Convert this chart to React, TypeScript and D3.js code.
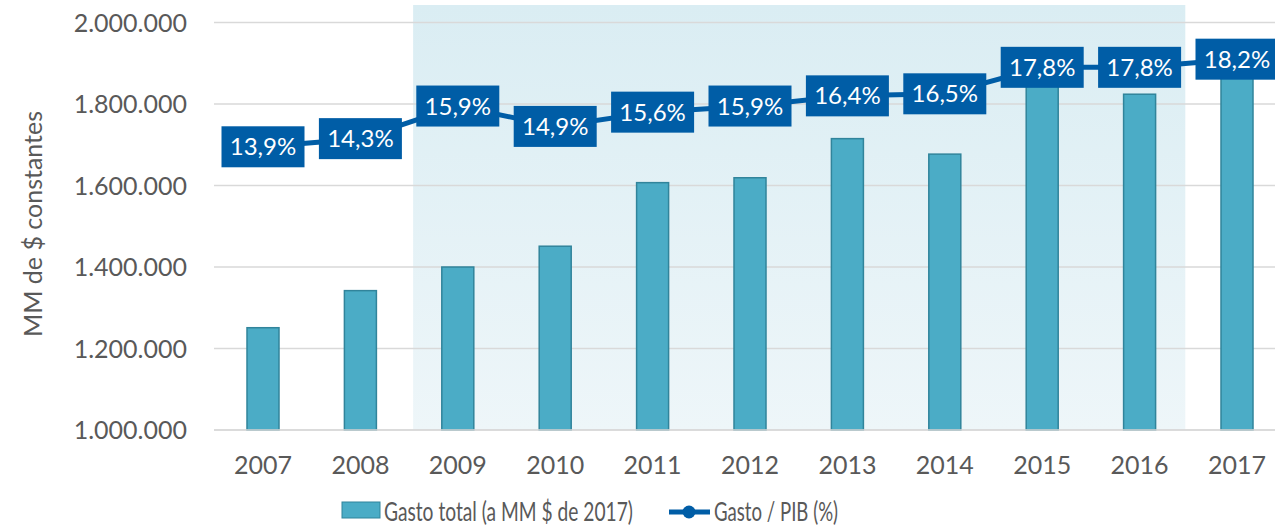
import React, { useLayoutEffect, useRef, useState } from "react";
import * as d3 from "d3";

const years = ["2007", "2008", "2009", "2010", "2011", "2012", "2013", "2014", "2015", "2016", "2017"];
const gastoTotal = [1251000, 1342000, 1400000, 1451000, 1607000, 1619000, 1715000, 1677000, 1858000, 1824000, 1880000];
const gastoPib = [13.9, 14.3, 15.9, 14.9, 15.6, 15.9, 16.4, 16.5, 17.8, 17.8, 18.2];
const yTicks = [1000000, 1200000, 1400000, 1600000, 1800000, 2000000];
const shadedFrom = "2009";
const shadedTo = "2016";
const legendLabels = ["Gasto total (a MM $ de 2017)", "Gasto / PIB (%)"];

const W = 1275;
const H = 528;
const FONT = "Lato, 'Open Sans', sans-serif";
const BAR = "#4BACC6";
const BAR_STROKE = "#31849B";
const LINE = "#005DA6";
const TEXT = "#595959";

const fmt = (v: number) => d3.format(",")(v).replace(/,/g, ".");
const fmtPct = (v: number) => v.toFixed(1).replace(".", ",") + "%";

function FitText({ x, y, width, children }: { x: number; y: number; width: number; children: string }) {
  const ref = useRef<SVGTextElement>(null);
  const [sx, setSx] = useState(0.72);
  useLayoutEffect(() => {
    if (ref.current) {
      const w = ref.current.getComputedTextLength();
      if (w > 0) setSx(width / w);
    }
  }, [width, children]);
  return (
    <g transform={`translate(${x},${y}) scale(${sx},1)`}>
      <text ref={ref} x={0} y={0} dy="0.36em" fontSize={27} fill={TEXT}>
        {children}
      </text>
    </g>
  );
}

export default function App() {
  const x = d3.scaleBand<string>().domain(years).range([214.3, 214.3 + 11 * 97.4]).padding(0);
  const step = x.step();
  const barW = 32;
  const y = d3.scaleLinear().domain([1000000, 2000000]).range([430, 22.5]);
  const y2 = d3.scaleLinear().domain([0, 20]).range([430, 22.5]);
  const cx = (c: string) => (x(c) as number) + step / 2;

  const line = d3
    .line<number>()
    .x((_, i) => cx(years[i]))
    .y((d) => y2(d));

  const shadeX0 = (x(shadedFrom) as number) + 4;
  const shadeX1 = (x(shadedTo) as number) + step - 3;

  return (
    <svg
      width={W}
      height={H}
      style={{ position: "absolute", left: 0, top: 0, display: "block", background: "#fff" }}
      fontFamily={FONT}
    >
      <defs>
        <linearGradient id="shade" x1="0" y1="0" x2="0" y2="1">
          <stop offset="0%" stopColor="#DAEDF3" />
          <stop offset="100%" stopColor="#EEF6F9" />
        </linearGradient>
      </defs>
      <rect x={shadeX0} y={5} width={shadeX1 - shadeX0} height={y(1000000) - 5} fill="url(#shade)" />
      {yTicks.map((t) => (
        <g key={t}>
          <line x1={214} x2={1290} y1={y(t)} y2={y(t)} stroke="#D9D9D9" strokeWidth={1.5} />
          <text x={187} y={y(t)} dy="0.36em" textAnchor="end" fontSize={25} fill={TEXT}>
            {fmt(t)}
          </text>
        </g>
      ))}
      {years.map((yr, i) => (
        <rect
          key={yr}
          x={cx(yr) - barW / 2}
          y={y(gastoTotal[i])}
          width={barW}
          height={y(1000000) - y(gastoTotal[i])}
          fill={BAR}
          stroke={BAR_STROKE}
          strokeWidth={1.5}
        />
      ))}
      <line x1={214} x2={1290} y1={y(1000000)} y2={y(1000000)} stroke="#D9D9D9" strokeWidth={1.5} />
      {years.map((yr) => (
        <text key={yr} x={cx(yr)} y={474} textAnchor="middle" fontSize={25} fill={TEXT}>
          {yr}
        </text>
      ))}
      <text
        transform={`translate(42,224) rotate(-90)`}
        textAnchor="middle"
        fontSize={25}
        fill={TEXT}
      >
        MM de $ constantes
      </text>
      <path d={line(gastoPib) || ""} fill="none" stroke={LINE} strokeWidth={5} strokeLinejoin="round" />
      {gastoPib.map((v, i) => (
        <g key={i}>
          <rect x={cx(years[i]) - 41.5} y={y2(v) - 20.5} width={83} height={41} fill={LINE} />
          <text x={cx(years[i])} y={y2(v)} dy="0.36em" textAnchor="middle" fontSize={24} fill="#fff">
            {fmtPct(v)}
          </text>
        </g>
      ))}
      {/* Legend */}
      <rect x={342} y={502} width={38} height={16} fill={BAR} stroke={BAR_STROKE} strokeWidth={1} />
      <FitText x={384} y={511} width={249}>
        {legendLabels[0]}
      </FitText>
      <line x1={669} x2={710} y1={512} y2={512} stroke={LINE} strokeWidth={5} />
      <circle cx={689} cy={512} r={6.5} fill={LINE} />
      <FitText x={714} y={511} width={124}>
        {legendLabels[1]}
      </FitText>
    </svg>
  );
}
